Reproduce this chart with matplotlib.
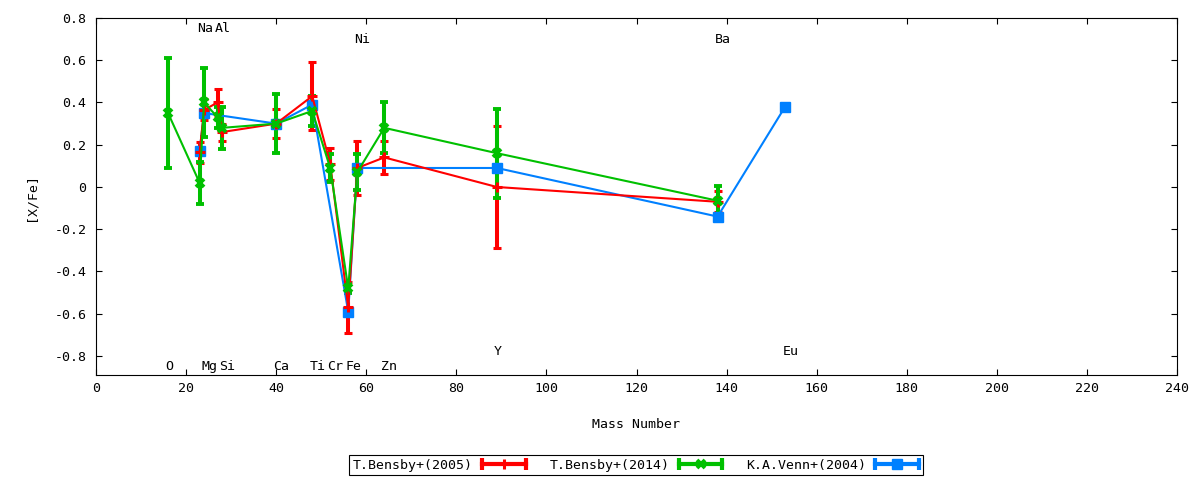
import numpy as np
import matplotlib
matplotlib.use("Agg")
import matplotlib.pyplot as plt
from matplotlib.lines import Line2D
from matplotlib.ticker import FuncFormatter
from matplotlib.legend_handler import HandlerTuple, HandlerLine2D

# T.Bensby+(2005)
mass_b05 = [23, 24, 27, 28, 40, 48, 52, 56, 58, 64, 89, 138]
xfe_b05 = [0.165, 0.365, 0.40, 0.26, 0.30, 0.43, 0.11, -0.57, 0.09, 0.14, 0.00, -0.07]
err_b05 = [0.05, 0.05, 0.065, 0.04, 0.07, 0.16, 0.075, 0.12, 0.13, 0.08, 0.29, 0.05]

# T.Bensby+(2014)
mass_b14 = [16, 23, 24, 27, 28, 40, 48, 52, 56, 58, 64, 89, 138]
xfe_b14 = [0.35, 0.02, 0.40, 0.33, 0.28, 0.30, 0.36, 0.09, -0.48, 0.07, 0.28, 0.16, -0.065]
err_b14 = [0.26, 0.10, 0.165, 0.05, 0.10, 0.14, 0.07, 0.065, 0.02, 0.085, 0.12, 0.21, 0.07]

# K.A.Venn+(2004)
mass_v04 = [23, 24, 40, 48, 56, 58, 89, 138, 153]
xfe_v04 = [0.17, 0.35, 0.30, 0.39, -0.59, 0.09, 0.09, -0.14, 0.38]

# element labels
elem_names = ["O", "Na", "Mg", "Al", "Si", "Ca", "Ti", "Cr", "Fe", "Ni", "Zn", "Y", "Ba", "Eu"]
elem_mass = [16, 23, 24, 27, 28, 40, 48, 52, 56, 58, 64, 89, 138, 153]
elem_y = [-0.867, 0.732, -0.867, 0.732, -0.867, -0.867, -0.867, -0.867, -0.867,
          0.684, -0.867, -0.795, 0.684, -0.795]

RED = "#ff0000"
GREEN = "#00c000"
BLUE = "#0080ff"

plt.rcParams["font.family"] = ["DejaVu Sans Mono"]
plt.rcParams["font.size"] = 9.5
plt.rcParams["axes.unicode_minus"] = False

fig = plt.figure(figsize=(12, 4.8), dpi=100)
ax = fig.add_axes([96 / 1200, 1 - 375 / 480, (1177 - 96) / 1200, (375 - 18) / 480])

ax.errorbar(mass_b05, xfe_b05, yerr=err_b05, color=RED, lw=1.5,
            elinewidth=2.9, capsize=2.9, capthick=2.8,
            marker="+", ms=7, mew=2.2)
ax.errorbar(mass_b14, xfe_b14, yerr=err_b14, color=GREEN, lw=1.5,
            elinewidth=2.9, capsize=2.9, capthick=2.8,
            marker="x", ms=6, mew=2.8)
ax.plot(mass_v04, xfe_v04, color=BLUE, lw=1.5, marker="s", ms=7)

for name, m, y in zip(elem_names, elem_mass, elem_y):
    ax.annotate(name, (m, y), xytext=(-2, 0), textcoords="offset points",
                ha="left", va="baseline")

ax.set_xlim(0, 240)
ax.set_ylim(-0.89, 0.8)
ax.set_xticks(np.arange(0, 241, 20))
ax.set_yticks(np.linspace(-0.8, 0.8, 9))
ax.yaxis.set_major_formatter(FuncFormatter(lambda v, p: "0" if abs(v) < 1e-9 else f"{v:.1f}"))
ax.tick_params(direction="in", top=True, right=True, length=4, width=0.8)
ax.tick_params(axis="x", pad=5)
ax.tick_params(axis="y", pad=7)
for s in ax.spines.values():
    s.set_linewidth(0.8)

fig.text(636 / 1200, 1 - 425 / 480, "Mass Number", ha="center", va="center")
fig.text(31 / 1200, 1 - 197 / 480, "[X/Fe]", rotation=90, ha="center", va="center")

# legend samples: thick bar with caps at both ends + point in the middle
handles = []
hmap = {tuple: HandlerTuple(ndivide=1, pad=0)}
for c, mk, ms, mew in [(RED, "+", 7, 2.2), (GREEN, "x", 6, 2.8), (BLUE, "s", 7, 1)]:
    bar = Line2D([], [], color=c, lw=3, marker="|", ms=8, mew=3)
    mid = Line2D([], [], color=c, ls="none", marker=mk, ms=ms, mew=mew)
    hmap[bar] = HandlerLine2D(numpoints=2, marker_pad=0)
    hmap[mid] = HandlerLine2D(numpoints=1)
    handles.append((bar, mid))

leg = fig.legend(handles, ["T.Bensby+(2005)", "T.Bensby+(2014)", "K.A.Venn+(2004)"],
                 handler_map=hmap, loc="center",
                 bbox_to_anchor=(636 / 1200, 1 - 465 / 480), ncol=3,
                 markerfirst=False, fancybox=False, edgecolor="black",
                 framealpha=1, handlelength=3.3, handletextpad=0.7,
                 columnspacing=1.8, borderpad=0.3, borderaxespad=0)
leg.get_frame().set_linewidth(0.8)

fig.savefig("out.png", dpi=100)
